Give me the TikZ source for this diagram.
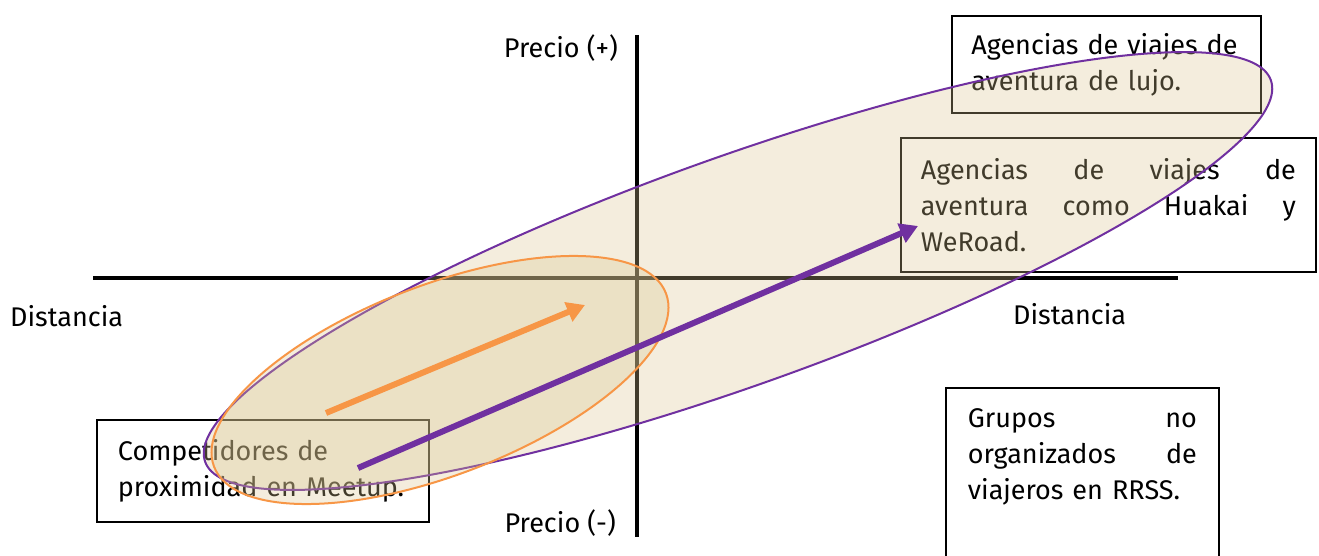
\documentclass[tikz,border=0pt]{standalone}
\usepackage{fontspec}
\setmainfont{Fira Sans}
\usetikzlibrary{positioning,arrows.meta}
\definecolor{morado}{HTML}{7030A0}
\definecolor{naranja}{HTML}{F79646}
\definecolor{arena}{RGB}{217,196,143}

\begin{document}
\begin{tikzpicture}[x=1pt,y=-1pt,
  txt/.style={font=\fontsize{27}{36}\selectfont,inner sep=0pt},
  caja/.style={draw,line width=1.8pt,anchor=north west,align=left,
    font=\fontsize{27}{36}\selectfont,inner ysep=0pt},
  eje/.style={line width=3.5pt},
  flecha/.style={line width=6pt,-{Triangle[length=18pt,width=20pt]}}]
  \useasboundingbox (0,0) rectangle (1319,556);
  % ejes
  \coordinate (izq) at (93,278); \coordinate (der) at (1178,278);
  \coordinate (arr) at (637,35); \coordinate (aba) at (637,537);
  \draw[eje] (izq) -- (der);
  \draw[eje] (arr) -- (aba);
  \node[txt,anchor=east] (pmas) at (618,48) {Precio (+)};
  \node[txt,anchor=east] (pmenos) at (616,523) {Precio (-)};
  \node[txt,anchor=west] (distI) at (10,316) {Distancia};
  \node[txt,anchor=west] (distD) at (1013,314) {Distancia};
  % cajas
  \node[caja,text width=270,inner xsep=19.5,minimum height=97] (lujo) at (951,15)
    {Agencias de viajes de\\aventura de lujo.};
  \node[caja,text width=375,inner xsep=20,minimum height=134] (huakai) at (900,137)
    {Agencias\hfill de\hfill viajes\hfill de\\
     aventura\hfill como\hfill Huakai\hfill y\\WeRoad.};
  \node[caja,text width=229,inner xsep=22,minimum height=204] (rrss) at (945,387)
    {Grupos\hfill no\\
     organizados\hfill de\\viajeros en RRSS.\\ \mbox{}\\ \mbox{}};
  \node[caja,text width=290,inner xsep=21,minimum height=102] (meetup) at (96,419)
    {Competidores de\\proximidad en Meetup.};
  % elipses
  \draw[morado,line width=2pt,fill=arena,fill opacity=0.3,rotate around={19.7:(738,271)}]
    (738,271) ellipse (566 and 114);
  \draw[naranja,line width=2pt,fill=arena,fill opacity=0.3,rotate around={21:(440,380)}]
    (440,380) ellipse (242 and 95);
  % flechas
  \coordinate (o1) at (326,413); \coordinate (o2) at (585,305);
  \coordinate (m1) at (358,468); \coordinate (m2) at (918,226);
  \draw[flecha,naranja] (o1) -- (o2);
  \draw[flecha,morado] (m1) -- (m2);
\end{tikzpicture}
\end{document}
